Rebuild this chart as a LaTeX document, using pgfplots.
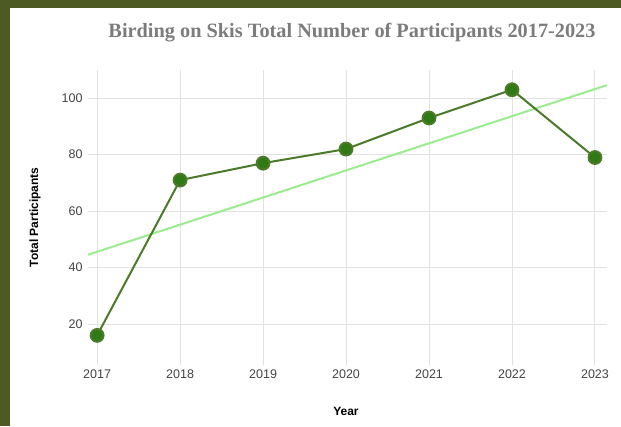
\documentclass[border=0pt]{standalone}
\usepackage{pgfplots}
\pgfplotsset{compat=1.18}
\usepackage{fontspec}
\setmainfont{Liberation Sans}
\newfontfamily\titlefont{Liberation Serif}

\definecolor{frame}{HTML}{4E5A24}
\definecolor{linegreen}{HTML}{4A7A2A}
\definecolor{dotgreen}{HTML}{2F7A15}
\definecolor{trendgreen}{HTML}{9AEC8F}
\definecolor{gridgray}{HTML}{E2E2E2}
\definecolor{ticktext}{HTML}{444444}
\definecolor{titlegray}{HTML}{7C7C7C}

\begin{document}
\begin{tikzpicture}
\useasboundingbox (0pt,0pt) rectangle (621pt,-426pt);
\fill[white] (0pt,0pt) rectangle (621pt,-426pt);
\fill[frame] (0pt,0pt) rectangle (621pt,-8pt);
\fill[frame] (0pt,0pt) rectangle (9.5pt,-426pt);
\begin{axis}[
  at={(88pt,-365pt)}, anchor=south west,
  scale only axis,
  width=519pt, height=295pt,
  xmin=2016.89, xmax=2023.145,
  ymin=5.5, ymax=110,
  xtick={2017,2018,2019,2020,2021,2022,2023},
  ytick={20,40,60,80,100},
  /pgf/number format/.cd, 1000 sep={}, assume math mode=true,
  /pgfplots/.cd,
  axis line style={draw=none},
  major tick length=0pt,
  grid=major,
  grid style={gridgray, line width=1pt},
  tick label style={font=\fontsize{12.5}{14}\selectfont, text=ticktext},
  yticklabel style={xshift=-2pt},
  xticklabel style={yshift=-1pt},
  title={\titlefont\bfseries Birding on Skis Total Number of Participants 2017-2023},
  title style={font=\fontsize{20.3}{24}\selectfont, text=titlegray,
    at={(axis description cs:0.5,1)}, anchor=center, yshift=31pt, xshift=4.5pt},
  xlabel={\bfseries Year},
  ylabel={\bfseries Total Participants},
  label style={font=\fontsize{12}{14}\selectfont, text=black},
  xlabel style={at={(axis description cs:0.497,-0.156)}, anchor=center},
  ylabel style={at={(axis description cs:-0.102,0.5)}, anchor=center, rotate=0},
]
% trend line (least squares fit of the points, drawn across the axis)
\addplot[trendgreen, line width=2pt] coordinates {(2016.89,44.55) (2023.145,104.64)};
\addplot[linegreen, line width=2pt, mark=*, mark size=6.4pt,
  mark options={fill=dotgreen, draw=none}]
  coordinates {(2017,16) (2018,71) (2019,77) (2020,82) (2021,93) (2022,103) (2023,79)};
\end{axis}
\end{tikzpicture}
\end{document}
